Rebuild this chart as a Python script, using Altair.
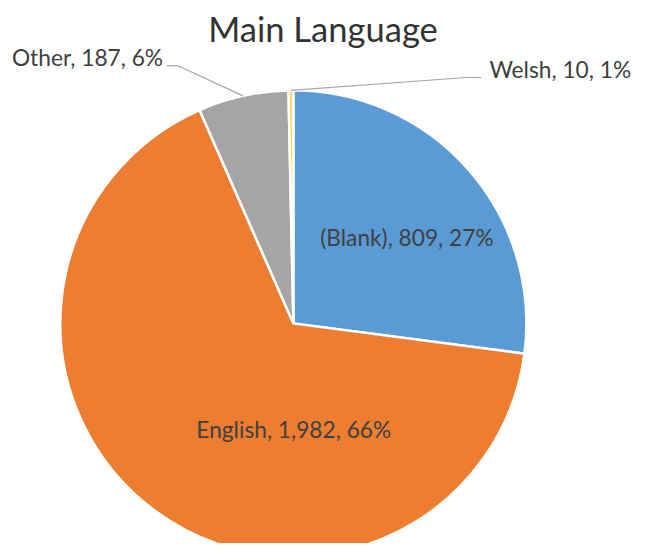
import math
import altair as alt
import pandas as pd

# ---- data ----
categories = ["(Blank)", "English", "Other", "Welsh"]
counts = [809, 1982, 187, 10]
percents = ["27%", "66%", "6%", "1%"]
colors = ["#5B9BD5", "#ED7D31", "#A5A5A5", "#FFD966"]
title_text = "Main Language"

labels = [f"{c}, {n:,}, {p}" for c, n, p in zip(categories, counts, percents)]
df = pd.DataFrame({"cat": categories, "count": counts, "label": labels,
                   "order": list(range(len(categories)))})

# ---- layout (chart coordinates; page has 8px margin) ----
W, H = 637, 535
CX, CY, R = 289, 316, 236
FONT = "Lato"
LABEL_SIZE = 23
TEXT_COLOR = "#404040"

theta = alt.Theta("count:Q", stack=True)
order = alt.Order("order:Q")
base = alt.Chart(df)

arc = base.mark_arc(stroke="white", strokeWidth=2.5, radius=R).encode(
    theta=theta,
    order=order,
    color=alt.Color("cat:N", scale=alt.Scale(domain=categories, range=colors), legend=None),
    x=alt.value(CX), y=alt.value(CY),
)

# label placement style: category -> (radius, dx, dy, align)
label_style = {
    "(Blank)": (141, 9, 15, "center"),
    "English": (141, 85, 3, "center"),
    "Other": (R, -81, -30, "right"),
    "Welsh": (R, 201, -13, "left"),
}

label_layers = []
for cat, (rad, dx, dy, align) in label_style.items():
    label_layers.append(
        base.transform_calculate(
            txt=f"datum.cat === '{cat}' ? datum.label : ''"
        ).mark_text(radius=rad, dx=dx, dy=dy, align=align, baseline="alphabetic",
                    font=FONT, fontSize=LABEL_SIZE, color=TEXT_COLOR).encode(
            theta=theta, order=order, text="txt:N",
            x=alt.value(CX), y=alt.value(CY),
        )
    )

# leader lines computed from the slice geometry
total = sum(counts)
cum = 0
mids = {}
for c, n in zip(categories, counts):
    mids[c] = (cum + n / 2) / total * 2 * math.pi
    cum += n

def edge(cat):
    a = mids[cat]
    return CX + R * math.sin(a), CY - R * math.cos(a)

ox, oy = edge("Other")
wx, wy = edge("Welsh")
segments = pd.DataFrame({
    "x": [ox, 172, wx, 464],
    "y": [oy, 55, wy, 67],
    "x2": [172, 161, 464, 479],
    "y2": [55, 55, 67, 67],
})
leaders = alt.Chart(segments).mark_rule(color="#A6A6A6", strokeWidth=1.2).encode(
    x=alt.X("x:Q", scale=alt.Scale(domain=[0, W], range=[0, W]), axis=None),
    x2="x2:Q",
    y=alt.Y("y:Q", scale=alt.Scale(domain=[0, H], range=[0, H]), axis=None),
    y2="y2:Q",
)

title = alt.Chart(pd.DataFrame({"t": [title_text]})).mark_text(
    font=FONT, fontSize=35, color="#333333", align="center", baseline="alphabetic"
).encode(text="t:N", x=alt.value(319), y=alt.value(31))

chart = alt.layer(arc, *label_layers, leaders, title).properties(
    width=W, height=H, padding=0, autosize=alt.AutoSizeParams(type="none")
).configure_view(stroke=None).resolve_scale(theta="shared")

chart.save("out.html", embed_options={"renderer": "svg", "actions": False})
